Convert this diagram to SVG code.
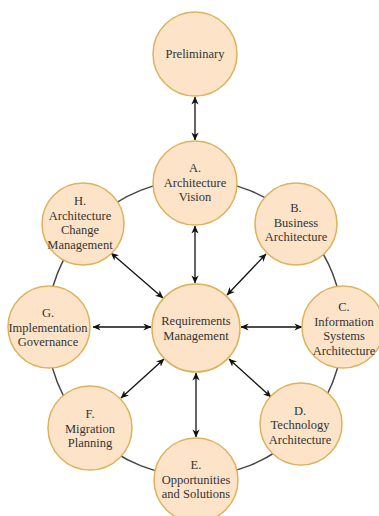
<svg xmlns="http://www.w3.org/2000/svg" width="379" height="516" viewBox="0 0 379 516">
  <style>
    .node { fill: #fde4c8; stroke: #dcb35c; stroke-width: 1.5; }
    .label { font-family: "Liberation Serif", "Times New Roman", serif; font-size: 12.5px; fill: #333; text-anchor: middle; }
    .link { stroke: #111; stroke-width: 1.3; fill: none; marker-start: url(#arrow); marker-end: url(#arrow); }
    .ring { stroke: #444; stroke-width: 1.5; fill: none; }
  </style>
  <defs>
    <marker id="arrow" viewBox="0 0 10 10" refX="9.5" refY="5" markerWidth="8" markerHeight="8" markerUnits="userSpaceOnUse" orient="auto-start-reverse">
      <path d="M0,0.5 L10,5 L0,9.5 L3,5 z" fill="#111"/>
    </marker>
  </defs>
  <rect width="379" height="516" fill="#fff"/>

  <!-- cycle ring behind the phase nodes -->
  <circle class="ring" cx="195" cy="328" r="148"/>

  <g id="connectors">
    <line class="link" x1="195" y1="97" x2="195" y2="140"/>
    <line class="link" x1="195" y1="226" x2="195" y2="283"/>
    <line class="link" x1="227" y1="295" x2="266" y2="254"/>
    <line class="link" x1="163" y1="298" x2="111" y2="253"/>
    <line class="link" x1="151" y1="327" x2="93" y2="327"/>
    <line class="link" x1="241" y1="327" x2="302" y2="327"/>
    <line class="link" x1="164" y1="359" x2="121" y2="398"/>
    <line class="link" x1="229" y1="359" x2="271" y2="397"/>
    <line class="link" x1="196" y1="373" x2="196" y2="437"/>
  </g>

  <g id="preliminary">
    <circle class="node" cx="195" cy="54" r="42"/>
    <text class="label" x="195" y="58">Preliminary</text>
  </g>
  <g id="a-vision">
    <circle class="node" cx="195" cy="183" r="42"/>
    <text class="label" x="195" y="172">A.</text>
    <text class="label" x="195" y="186.5">Architecture</text>
    <text class="label" x="195" y="201">Vision</text>
  </g>
  <g id="b-business">
    <circle class="node" cx="296" cy="224" r="41"/>
    <text class="label" x="296" y="212">B.</text>
    <text class="label" x="296" y="226.5">Business</text>
    <text class="label" x="296" y="241">Architecture</text>
  </g>
  <g id="c-information-systems">
    <circle class="node" cx="343" cy="327" r="41"/>
    <text class="label" x="344" y="311">C.</text>
    <text class="label" x="344" y="325.5">Information</text>
    <text class="label" x="344" y="340">Systems</text>
    <text class="label" x="344" y="354.5">Architecture</text>
  </g>
  <g id="d-technology">
    <circle class="node" cx="301" cy="424" r="41"/>
    <text class="label" x="300" y="414.5">D.</text>
    <text class="label" x="300" y="429">Technology</text>
    <text class="label" x="300" y="443.5">Architecture</text>
  </g>
  <g id="e-opportunities">
    <circle class="node" cx="196" cy="480" r="42"/>
    <text class="label" x="196" y="469">E.</text>
    <text class="label" x="196" y="483.5">Opportunities</text>
    <text class="label" x="196" y="498">and Solutions</text>
  </g>
  <g id="f-migration">
    <circle class="node" cx="90" cy="428" r="42"/>
    <text class="label" x="90" y="418">F.</text>
    <text class="label" x="90" y="432.5">Migration</text>
    <text class="label" x="90" y="447">Planning</text>
  </g>
  <g id="g-governance">
    <circle class="node" cx="49" cy="327" r="41"/>
    <text class="label" x="48" y="317">G.</text>
    <text class="label" x="48" y="331.5">Implementation</text>
    <text class="label" x="48" y="346">Governance</text>
  </g>
  <g id="h-change">
    <circle class="node" cx="83" cy="224" r="41"/>
    <text class="label" x="80" y="205">H.</text>
    <text class="label" x="80" y="219.5">Architecture</text>
    <text class="label" x="80" y="234">Change</text>
    <text class="label" x="80" y="248.5">Management</text>
  </g>
  <g id="requirements">
    <circle class="node" cx="196" cy="328" r="44"/>
    <text class="label" x="196" y="325">Requirements</text>
    <text class="label" x="196" y="339.5">Management</text>
  </g>
</svg>
